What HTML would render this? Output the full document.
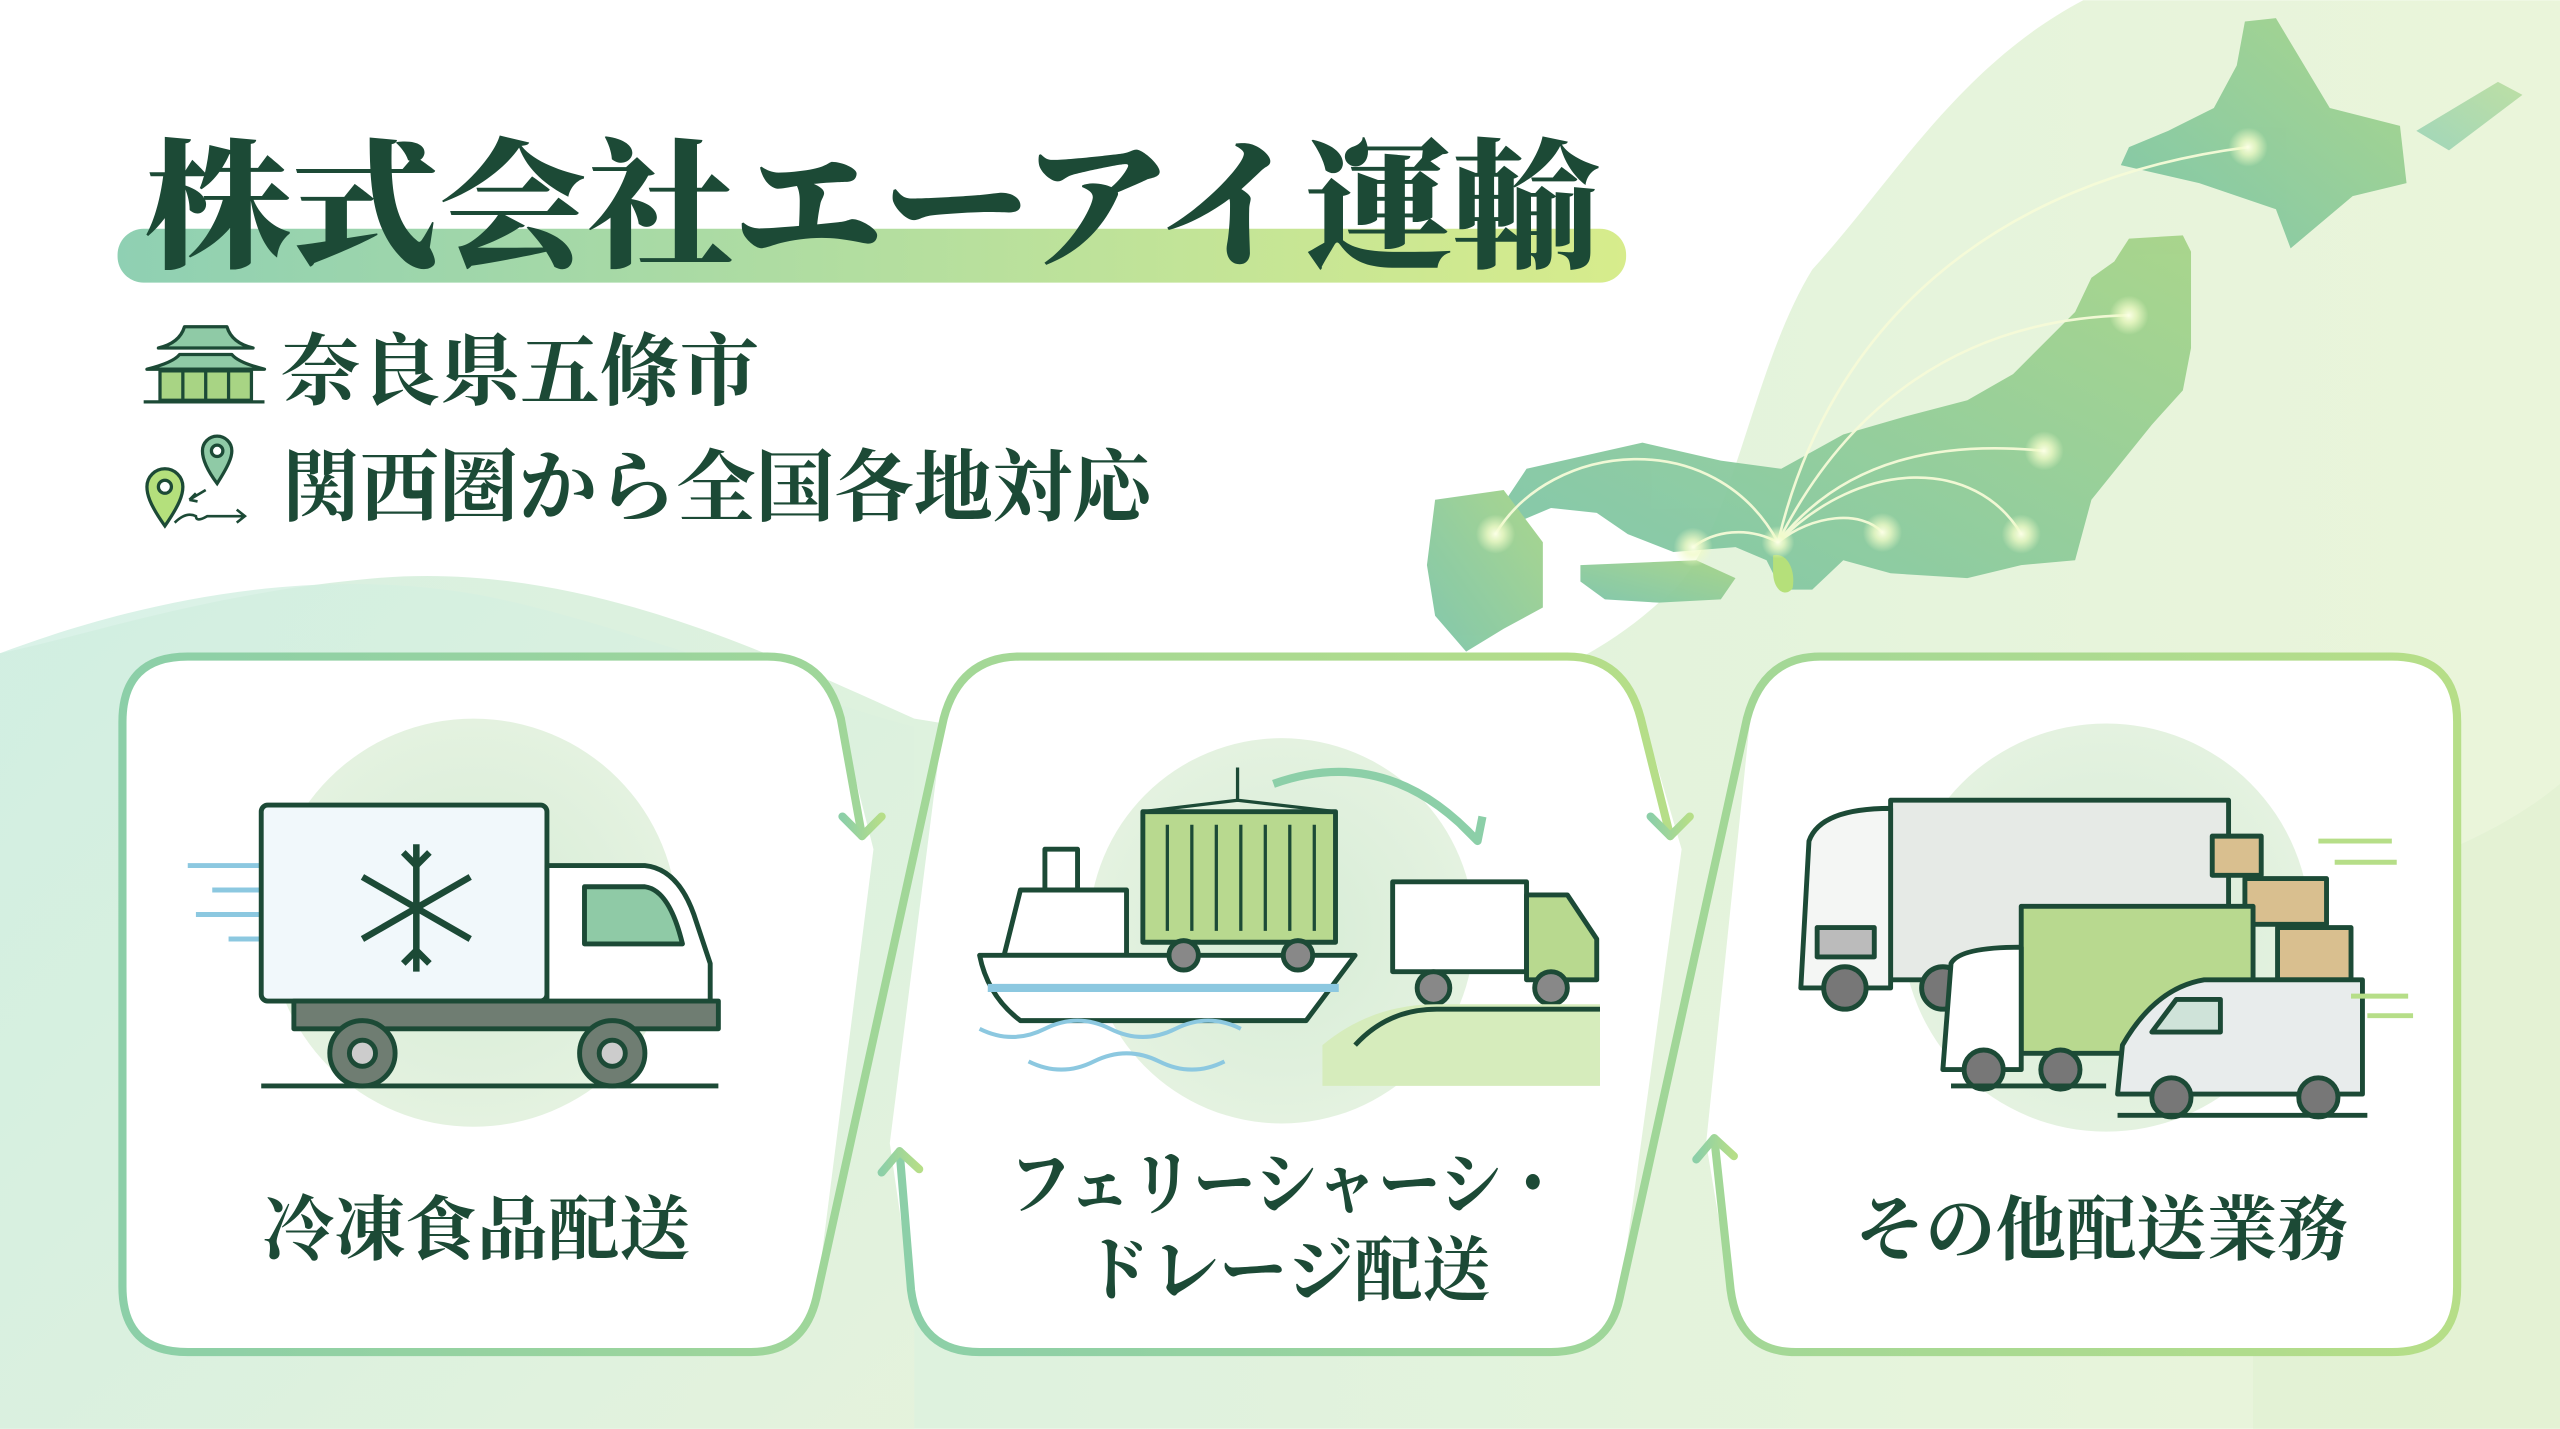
<!DOCTYPE html>
<html><head><meta charset="utf-8"><style>
html,body{margin:0;padding:0;background:#fff;}
svg{display:block}
text{font-family:"Liberation Serif","Noto Serif CJK SC","Noto Sans CJK JP",serif;font-weight:700;fill:#1c4a36}
</style></head><body>
<svg width="2560" height="1429" viewBox="0 0 1568 875" xmlns="http://www.w3.org/2000/svg">
<defs>
<linearGradient id="bgL" x1="0" y1="0" x2="1" y2="1"><stop offset="0" stop-color="#cfeee2"/><stop offset="1" stop-color="#e6f3dc"/></linearGradient>
<linearGradient id="bgR" x1="0" y1="0" x2="1" y2="0"><stop offset="0" stop-color="#d3eedd"/><stop offset="1" stop-color="#e8f4d6"/></linearGradient>
<linearGradient id="bar" x1="0" y1="0" x2="1" y2="0"><stop offset="0" stop-color="#8fd0b3"/><stop offset="1" stop-color="#d7ec8c"/></linearGradient>
<linearGradient id="st" x1="0" y1="0" x2="1" y2="0"><stop offset="0" stop-color="#8ccfa8"/><stop offset="1" stop-color="#b6de88"/></linearGradient>
<linearGradient id="land" x1="0" y1="1" x2="1" y2="0"><stop offset="0" stop-color="#7cc5a9"/><stop offset="1" stop-color="#a6d488"/></linearGradient>
<radialGradient id="circ"><stop offset="0" stop-color="#d6ecd6"/><stop offset="1" stop-color="#e4f2e0"/></radialGradient>
<radialGradient id="glow"><stop offset="0" stop-color="#fbffe6"/><stop offset="0.4" stop-color="#f0fbc8" stop-opacity="0.8"/><stop offset="1" stop-color="#f0fbc8" stop-opacity="0"/></radialGradient>
</defs>
<!-- backgrounds -->
<path d="M1276,0 C1200,40 1160,110 1110,165 C1070,230 1060,340 1016,369 C960,420 880,440 800,450 C700,460 620,450 560,440 C470,400 350,340 220,355 C120,365 50,390 0,400 L0,875 L1568,875 L1568,0 Z" fill="url(#bgR)" opacity="0.9"/>
<path d="M0,400 C80,370 200,340 320,370 C420,395 500,430 560,445 L560,875 L0,875 Z" fill="url(#bgL)" opacity="0.8"/>
<path d="M1380,560 C1450,540 1520,520 1568,480 L1568,875 L1380,875 Z" fill="#dff0d0" opacity="0.6"/>
<!-- map -->
<g fill="url(#land)" opacity="0.95">
<path d="M1375,13 L1394,11 L1427,66 L1470,77 L1474,112 L1441,120 L1403,152 L1394,128 L1347,112 L1299,101 L1304,90 L1328,80 L1356,66 L1370,40 Z"/>
<path d="M1304,146 L1337,144 L1342,154 L1342,213 L1337,239 L1318,260 L1281,306 L1271,343 L1238,346 L1205,354 L1158,351 L1129,343 L1110,361 L1091,361 L1082,343 L1063,335 L1025,338 L997,327 L978,314 L950,311 L931,319 L921,308 L935,287 L1006,271 L1054,282 L1091,287 L1129,266 L1167,255 L1205,245 L1233,229 L1271,191 L1281,170 L1295,160 Z"/>
<path d="M879,306 L921,300 L945,332 L945,372 L921,385 L898,399 L879,377 L874,346 Z"/>
<path d="M968,346 L1039,343 L1063,354 L1054,367 L1016,369 L983,367 L968,356 Z"/>
<path d="M1480,80 L1530,50 L1545,58 L1500,92 Z" opacity="0.7"/>
</g>
<path d="M1086,340 C1094,338 1100,348 1098,360 C1094,366 1086,362 1086,350 Z" fill="#b5e07a"/>
<g fill="none" stroke="#f6fbd8" stroke-width="1.6" opacity="0.95">
<path d="M1089,332 C1120,200 1220,110 1377,90"/>
<path d="M1089,332 C1130,250 1200,195 1304,193"/>
<path d="M1089,332 C1130,280 1190,270 1252,276"/>
<path d="M1089,332 C1140,280 1210,280 1238,327"/>
<path d="M1089,332 C1110,315 1140,312 1153,326"/>
<path d="M1089,332 C1070,322 1050,325 1037,335"/>
<path d="M1089,332 C1050,260 950,270 916,327"/>
</g>
<g>
<circle cx="1377" cy="90" r="12" fill="url(#glow)"/><circle cx="1304" cy="193" r="12" fill="url(#glow)"/><circle cx="1252" cy="276" r="12" fill="url(#glow)"/><circle cx="1238" cy="327" r="12" fill="url(#glow)"/><circle cx="1153" cy="326" r="12" fill="url(#glow)"/><circle cx="1037" cy="335" r="12" fill="url(#glow)"/><circle cx="916" cy="327" r="12" fill="url(#glow)"/><circle cx="1089" cy="332" r="10" fill="url(#glow)"/>
</g>
<!-- title -->
<rect x="72" y="140" width="924" height="33" rx="16" fill="url(#bar)"/>
<text x="88" y="157" font-size="86" textLength="892" lengthAdjust="spacingAndGlyphs" style="font-weight:900">株式会社エーアイ運輸</text>
<text x="172" y="244" font-size="48" textLength="293" lengthAdjust="spacingAndGlyphs">奈良県五條市</text>
<text x="172" y="315" font-size="48" textLength="533" lengthAdjust="spacingAndGlyphs">関西圏から全国各地対応</text>
<!-- temple icon -->
<g stroke="#1c4a36" stroke-width="2" stroke-linejoin="round">
<path d="M97,213 Q110,210 113,200 H139 Q142,210 155,213 Z" fill="#8fcaa6"/>
<path d="M90,226 Q106,222 110,217 H142 Q146,222 162,226 Z" fill="#8fcaa6"/>
<rect x="98" y="227" width="56" height="18" fill="#a8d484"/>
<path d="M88,246 H162" fill="none"/>
<path d="M112,227 V245 M126,227 V245 M140,227 V245" fill="none"/>
</g>
<!-- pin icon -->
<g stroke="#1c4a36" stroke-width="2">
<path d="M133,296 C124,284 124,278 124,276 A9,9 0 1 1 142,276 C142,280 140,285 133,296 Z" fill="#8fcaa6"/>
<circle cx="133" cy="276" r="3.5" fill="#fff"/>
<path d="M101,322 C91,308 90,302 90,298 A11,11 0 1 1 112,298 C112,303 110,309 101,322 Z" fill="#b4e07c"/>
<circle cx="101" cy="298" r="4" fill="#fff"/>
<path d="M126,300 L116,306 M116,306 l4,-4 M116,306 l5,1 M107,320 Q114,313 120,316 Q120,320 127,316 H150 M145,312 L150,316 L145,320" fill="none" stroke-width="1.6"/>
</g>
<!-- cards -->
<g fill="#fff">
<path d="M115,402 H480 Q505,402 512,430 L535,520 L500,795 Q492,828 460,828 H115 Q75,828 75,788 V442 Q75,402 115,402 Z"/>
<path d="M620,402 H965 Q995,402 1005,435 L1030,520 L992,795 Q985,828 950,828 H600 Q563,828 558,790 L545,700 L578,440 Q588,402 620,402 Z"/>
<path d="M1115,402 H1465 Q1505,402 1505,442 V788 Q1505,828 1465,828 H1100 Q1065,828 1060,790 L1045,700 L1072,440 Q1080,402 1115,402 Z"/>
</g>
<g fill="none" stroke="url(#st)" stroke-width="5" stroke-linecap="round" stroke-linejoin="round">
<path d="M528,512 L515,440 Q505,402 470,402 H115 Q75,402 75,442 V788 Q75,828 115,828 H460 Q492,828 500,795 L578,440 Q588,402 625,402 H960 Q995,402 1005,440 L1023,512"/>
<path d="M516,500 L528,512 L540,500"/>
<path d="M1011,500 L1023,512 L1035,500"/>
<path d="M551,705 L558,790 Q563,828 600,828 H950 Q985,828 992,795 L1070,440 Q1080,402 1115,402 H1465 Q1505,402 1505,442 V788 Q1505,828 1465,828 H1100 Q1065,828 1060,790 L1050,697"/>
<path d="M540,718 L551,705 L563,716"/>
<path d="M1039,710 L1050,697 L1062,708"/>
</g>
<!-- icon circles -->
<circle cx="290" cy="565" r="125" fill="url(#circ)"/>
<circle cx="785" cy="570" r="118" fill="url(#circ)"/>
<circle cx="1290" cy="568" r="125" fill="url(#circ)"/>
<!-- card1 truck -->
<g stroke="#1c4a36" stroke-width="3" stroke-linejoin="round">
<path d="M115,530 H185 M130,545 H205 M120,560 H190 M140,575 H200" stroke="#8cc8e0" fill="none" stroke-width="3"/>
<rect x="160" y="493" width="175" height="120" rx="4" fill="#f1f8fb"/>
<path d="M335,530 H395 Q415,532 425,560 L435,590 V625 H335 Z" fill="#fff"/>
<path d="M358,543 H395 Q410,545 418,578 H358 Z" fill="#8fcaa6"/>
<rect x="180" y="613" width="260" height="17" fill="#6f7d72"/>
<circle cx="222" cy="645" r="20" fill="#6f7d72"/><circle cx="222" cy="645" r="8" fill="#ccc"/>
<circle cx="375" cy="645" r="20" fill="#6f7d72"/><circle cx="375" cy="645" r="8" fill="#ccc"/>
<path d="M160,665 H440" fill="none"/>
<g fill="none" stroke-width="4"><path d="M255,517 V595 M222,537 L288,575 M222,575 L288,537"/><path d="M247,522 L255,530 L263,522 M247,590 L255,582 L263,590"/></g>
</g>
<!-- card2 ship -->
<g stroke="#1c4a36" stroke-width="3" stroke-linejoin="round">
<path d="M640,520 H660 V545 H640 Z" fill="#fff"/>
<path d="M625,545 H690 V585 H615 Z" fill="#fff"/>
<path d="M600,585 H830 L800,625 H625 Q605,610 600,585 Z" fill="#fff"/>
<path d="M605,605 H820" stroke="#8cc8e0" stroke-width="5" fill="none"/>
<rect x="700" y="497" width="118" height="80" fill="#b8d98f"/>
<path d="M715,505 V570 M730,505 V570 M745,505 V570 M760,505 V570 M775,505 V570 M790,505 V570 M805,505 V570" fill="none" stroke-width="2"/>
<path d="M758,470 V490 L700,497 M758,490 L818,497" fill="none" stroke-width="2"/>
<circle cx="725" cy="585" r="9" fill="#888"/><circle cx="795" cy="585" r="9" fill="#888"/>
<path d="M780,480 Q850,455 905,515 M895,505 L905,515 L908,500" fill="none" stroke="#8ccfa8" stroke-width="5"/>
<rect x="853" y="540" width="82" height="55" fill="#fff"/>
<path d="M935,548 H960 L978,575 V600 H935 Z" fill="#b8d98f"/>
<circle cx="878" cy="605" r="10" fill="#888"/><circle cx="950" cy="605" r="10" fill="#888"/>
<path d="M600,630 Q620,640 640,630 T680,630 T720,630 T760,630 M630,650 Q650,660 670,650 T710,650 T750,650" fill="none" stroke="#8cc8e0" stroke-width="2.5"/>
<path d="M810,640 Q840,615 880,615 H980 V665 H810 Z" fill="#d6ecbc" stroke="none"/>
<path d="M830,640 Q850,618 880,618 H980" fill="none"/>
</g>
<!-- card3 trucks -->
<g stroke="#1c4a36" stroke-width="3" stroke-linejoin="round">
<rect x="1158" y="490" width="207" height="110" fill="#e6eae6"/>
<path d="M1108,515 Q1115,495 1158,495 V605 H1103 Z" fill="#f4f6f4"/>
<rect x="1113" y="568" width="35" height="18" fill="#bbb"/>
<circle cx="1130" cy="605" r="13" fill="#777"/><circle cx="1190" cy="605" r="13" fill="#777"/>
<rect x="1355" y="512" width="30" height="24" fill="#d9bf8f"/><rect x="1375" y="538" width="50" height="28" fill="#d9bf8f"/><rect x="1395" y="568" width="45" height="32" fill="#d9bf8f"/>
<rect x="1238" y="555" width="142" height="90" fill="#b8d98f"/>
<path d="M1195,590 Q1200,580 1238,580 V655 H1190 Z" fill="#fff"/>
<circle cx="1215" cy="655" r="12" fill="#777"/><circle cx="1262" cy="655" r="12" fill="#777"/>
<path d="M1300,640 Q1320,605 1350,600 H1447 V670 H1297 Z" fill="#e8ecec"/>
<path d="M1318,632 L1333,612 H1360 V632 Z" fill="#cfe3d9"/>
<circle cx="1330" cy="672" r="12" fill="#777"/><circle cx="1420" cy="672" r="12" fill="#777"/>
<path d="M1195,665 H1290 M1297,683 H1450" fill="none"/>
<path d="M1420,515 H1465 M1430,528 H1468 M1440,610 H1475 M1450,622 H1478" fill="none" stroke="#b6de88" stroke-width="3"/>
</g>
<!-- labels -->
<text x="292" y="768" font-size="43" text-anchor="middle" textLength="262" lengthAdjust="spacingAndGlyphs">冷凍食品配送</text>
<text x="788" y="740" font-size="43" text-anchor="middle" textLength="340" lengthAdjust="spacingAndGlyphs">フェリーシャーシ・</text>
<text x="788" y="793" font-size="43" text-anchor="middle" textLength="250" lengthAdjust="spacingAndGlyphs">ドレージ配送</text>
<text x="1287" y="768" font-size="43" text-anchor="middle" textLength="302" lengthAdjust="spacingAndGlyphs">その他配送業務</text>
</svg>
</body></html>
